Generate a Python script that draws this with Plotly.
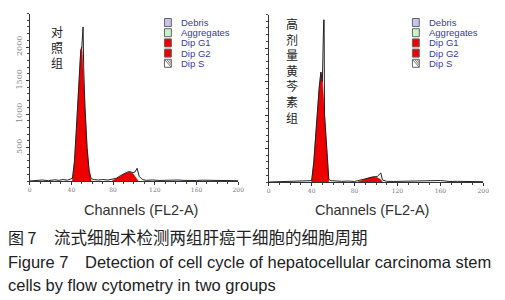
import plotly.graph_objects as go

# ---------------- data ----------------
# Left panel (control group)
g1_ch_L = [41, 43, 45, 47, 49, 50, 51, 53, 55, 57, 59]
g1_val_L = [0, 300, 800, 1400, 1950, 2000, 1750, 1100, 500, 150, 0]
g2_ch_L = [79, 83, 87, 91, 94, 96, 99, 102, 104]
g2_val_L = [0, 30, 70, 110, 130, 135, 110, 50, 0]
out_ch_L = [0, 6, 12, 18, 24, 28, 32, 36, 39, 41, 43, 45, 47, 49, 50, 50.6, 51.2, 51.8, 53, 55, 57, 59,
            62, 66, 70, 75, 79, 83, 87, 91, 94, 96, 99, 101, 103, 105, 108, 112, 118, 124, 130, 136,
            142, 148, 154, 160, 166, 172, 178, 184, 190, 196, 200]
out_val_L = [0, 8, 15, 5, 18, 10, 22, 12, 25, 40, 300, 800, 1400, 1950, 2000, 2300, 2300, 1700, 1100, 500, 150, 35,
             20, 15, 22, 14, 28, 40, 80, 115, 135, 140, 125, 135, 190, 70, 22, 10, 16, 8, 14, 10,
             15, 9, 14, 8, 12, 10, 13, 8, 10, 6, 4]

# Right panel (high-dose baicalein group)
g1_ch_R = [40, 42, 44, 45, 47, 48.6, 50, 52, 54, 56]
g1_val_R = [0, 300, 750, 1030, 1400, 1640, 1500, 1000, 500, 0]
g2_ch_R = [83, 88, 92, 95, 98, 101, 104, 106]
g2_val_R = [0, 30, 55, 70, 75, 65, 40, 0]
out_ch_R = [0, 8, 16, 24, 32, 38, 40, 42, 44, 45, 47, 48.6, 50, 51.2, 51.6, 52, 54, 56, 58,
            62, 68, 74, 80, 83, 88, 92, 95, 98, 101, 104.5, 106, 110, 116, 124, 132, 140,
            148, 152, 156, 160, 164, 168, 176, 184, 192, 200]
out_val_R = [0, 5, 10, 6, 12, 15, 20, 300, 750, 1030, 1400, 1640, 1500, 2420, 2420, 1000, 500, 40, 20,
             15, 10, 14, 8, 20, 40, 60, 72, 78, 80, 135, 30, 10, 8, 12, 6, 10,
             18, 20, 18, 22, 16, 8, 10, 6, 8, 4]

x_ticks = [0, 40, 80, 120, 160, 200]
y_ticks = [500, 1000, 1500, 2000]
legend_items = ["Debris", "Aggregates", "Dip G1", "Dip G2", "Dip S"]
legend_fill = ["#c4c4ee", "#c8f2c8", "#ee0000", "#ee0000", "#ffffff"]
label_L = "对照组"
label_R = "高剂量黄芩素组"

RED = "#ec0000"
OFF = 8                      # browser body margin
W, H = 505 - OFF, 300 - OFF  # figure size so the page fits the window


def px(x):
    return (x - OFF) / W


def py(y):
    return 1 - (y - OFF) / H


fig = go.Figure()


def add_panel(xa, ya, g1c, g1v, g2c, g2v, oc, ov):
    for c, v in ((g1c, g1v), (g2c, g2v)):
        fig.add_trace(go.Scatter(x=c, y=v, xaxis=xa, yaxis=ya, mode="lines", fill="tozeroy",
                                 fillcolor=RED, line=dict(color="#c00000", width=0.6),
                                 showlegend=False, hoverinfo="skip"))
    fig.add_trace(go.Scatter(x=oc, y=ov, xaxis=xa, yaxis=ya, mode="lines",
                             line=dict(color="#222222", width=1), showlegend=False, hoverinfo="skip"))


add_panel("x", "y", g1_ch_L, g1_val_L, g2_ch_L, g2_val_L, out_ch_L, out_val_L)
add_panel("x2", "y2", g1_ch_R, g1_val_R, g2_ch_R, g2_val_R, out_ch_R, out_val_R)


def xax(domain, anchor):
    return dict(domain=domain, range=[0, 200], anchor=anchor, showgrid=False, zeroline=False,
                showline=True, linecolor="#333333", linewidth=1, ticks="outside", ticklen=3,
                tickcolor="#333333", tickvals=x_ticks, ticktext=[str(t) for t in x_ticks],
                tickfont=dict(size=6, color="#777777", family="DejaVu Serif"),
                minor=dict(ticks="outside", ticklen=2, dtick=10, tickcolor="#444444"),
                fixedrange=True)


def yax(domain, anchor, labels):
    return dict(domain=domain, range=[0, 2500], anchor=anchor, showgrid=False, zeroline=False,
                showline=True, linecolor="#333333", linewidth=1, ticks="outside", ticklen=3,
                tickcolor="#333333", tickvals=y_ticks, ticktext=[str(t) for t in y_ticks],
                showticklabels=labels, tickangle=-90,
                tickfont=dict(size=8, color="#888888", family="DejaVu Serif"),
                minor=dict(ticks="outside", ticklen=2, dtick=100, tickcolor="#444444"),
                fixedrange=True)


fig.update_layout(
    width=W, height=H, margin=dict(l=0, r=0, t=0, b=0),
    paper_bgcolor="white", plot_bgcolor="white", showlegend=False,
    xaxis=xax([px(28), px(240)], "y"),
    yaxis=yax([py(181), py(13.5)], "x", True),
    xaxis2=xax([px(271), px(489)], "y2"),
    yaxis2=yax([py(182), py(14.5)], "x2", False),
)

ann = []
shapes = []

# legends
for (bx, tx) in ((165, 180), (417, 432)):
    for i, (name, col) in enumerate(zip(legend_items, legend_fill)):
        yc = 22.5 + i * 10.2
        shapes.append(dict(type="rect", xref="paper", yref="paper",
                           x0=px(bx), x1=px(bx + 7), y0=py(yc + 4), y1=py(yc - 4),
                           fillcolor=col, line=dict(color="#666666", width=1)))
        if name == "Dip S":
            for k in range(3):
                shapes.append(dict(type="line", xref="paper", yref="paper",
                                   x0=px(bx + k * 2.3), y0=py(yc - 4),
                                   x1=px(bx + 7), y1=py(yc + 4 - k * 2.3),
                                   line=dict(color="#777777", width=1)))
        ann.append(dict(text=name, xref="paper", yref="paper", x=px(tx), y=py(yc),
                        xanchor="left", yanchor="middle", showarrow=False,
                        font=dict(size=9.5, color="#3a3a9c", family="Liberation Sans")))

# vertical Chinese labels
ann.append(dict(text="<br>".join(label_L), xref="paper", yref="paper", x=px(56), y=py(21),
                xanchor="center", yanchor="top", showarrow=False, align="center",
                font=dict(size=12, color="#222222", family="Noto Sans CJK SC")))
ann.append(dict(text="<br>".join(label_R), xref="paper", yref="paper", x=px(295), y=py(13),
                xanchor="center", yanchor="top", showarrow=False, align="center",
                font=dict(size=12, color="#222222", family="Noto Sans CJK SC")))

# axis titles
for cx in (141, 376):
    ann.append(dict(text="Channels (FL2-A)", xref="paper", yref="paper", x=px(cx), y=py(210),
                    xanchor="center", yanchor="middle", showarrow=False,
                    font=dict(size=14.5, color="#333333", family="Liberation Sans")))

# caption
ann.append(dict(text="图 7", xref="paper", yref="paper", x=px(4), y=py(237),
                xanchor="left", yanchor="middle", showarrow=False,
                font=dict(size=16, color="#222222", family="Noto Sans CJK SC")))
ann.append(dict(text="流式细胞术检测两组肝癌干细胞的细胞周期", xref="paper", yref="paper", x=px(51), y=py(237),
                xanchor="left", yanchor="middle", showarrow=False,
                font=dict(size=16.5, color="#222222", family="Noto Sans CJK SC")))
ann.append(dict(text="Figure 7", xref="paper", yref="paper", x=px(4), y=py(262),
                xanchor="left", yanchor="middle", showarrow=False,
                font=dict(size=16.5, color="#222222", family="Liberation Sans")))
ann.append(dict(text="Detection of cell cycle of hepatocellular carcinoma stem", xref="paper", yref="paper",
                x=px(82), y=py(262), xanchor="left", yanchor="middle", showarrow=False,
                font=dict(size=16.5, color="#222222", family="Liberation Sans")))
ann.append(dict(text="cells by flow cytometry in two groups", xref="paper", yref="paper",
                x=px(4), y=py(285), xanchor="left", yanchor="middle", showarrow=False,
                font=dict(size=16.5, color="#222222", family="Liberation Sans")))

fig.update_layout(annotations=ann, shapes=shapes)
fig.write_html("out.html")
